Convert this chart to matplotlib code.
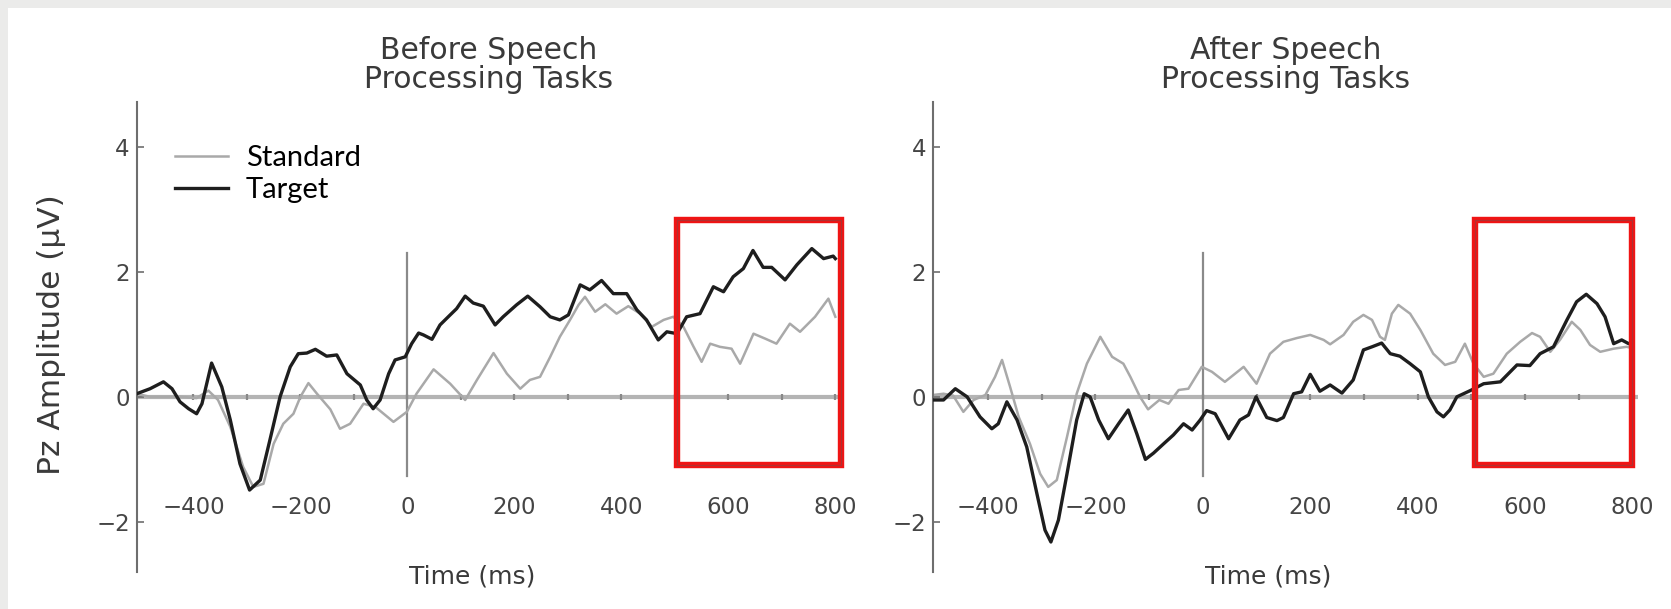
import numpy as np
import matplotlib
matplotlib.use('Agg')
import matplotlib.pyplot as plt
from matplotlib.patches import Rectangle

# --- data (ms, microvolt) ---
before_target_t = [-506, -481, -456, -440, -425, -409, -394, -384, -366, -347, -331, -313, -295, -275,
                   -257, -238, -219, -204, -188, -172, -151, -132, -113, -88, -76, -64, -51, -35, -23,
                   -4, 8, 21, 30, 46, 61, 80, 92, 108, 123, 142, 164, 179, 204, 225, 248, 267, 285,
                   301, 323, 341, 363, 385, 410, 429, 447, 469, 485, 504, 522, 547, 572, 591, 609,
                   628, 646, 665, 681, 706, 728, 756, 778, 796, 800]
before_target_v = [0.05, 0.13, 0.24, 0.13, -0.08, -0.19, -0.27, -0.11, 0.54, 0.16, -0.37, -1.07, -1.49,
                   -1.33, -0.69, 0.0, 0.48, 0.69, 0.70, 0.76, 0.65, 0.67, 0.37, 0.19, -0.05, -0.19,
                   -0.05, 0.37, 0.59, 0.64, 0.85, 1.02, 0.99, 0.92, 1.15, 1.31, 1.41, 1.61, 1.50, 1.45,
                   1.15, 1.28, 1.47, 1.61, 1.44, 1.28, 1.23, 1.31, 1.79, 1.71, 1.86, 1.65, 1.65, 1.39,
                   1.23, 0.91, 1.04, 1.01, 1.28, 1.33, 1.76, 1.68, 1.92, 2.05, 2.34, 2.07, 2.07, 1.87,
                   2.11, 2.37, 2.21, 2.25, 2.21]

before_std_t = [-506, -481, -456, -425, -394, -372, -354, -331, -307, -288, -269, -250, -232, -213,
                -200, -185, -169, -144, -126, -107, -82, -60, -26, -1, 17, 49, 80, 108, 130, 161,
                186, 211, 229, 248, 267, 285, 304, 320, 332, 351, 370, 391, 413, 435, 457, 479, 497,
                516, 535, 550, 566, 584, 606, 622, 647, 669, 690, 715, 734, 762, 787, 800]
before_std_v = [0.05, 0.0, 0.0, 0.0, -0.02, 0.10, -0.05, -0.48, -1.12, -1.44, -1.39, -0.75, -0.43,
                -0.27, 0.0, 0.22, 0.05, -0.20, -0.51, -0.43, -0.11, -0.16, -0.40, -0.24, 0.05, 0.44,
                0.21, -0.05, 0.27, 0.70, 0.37, 0.13, 0.27, 0.32, 0.64, 0.96, 1.23, 1.47, 1.60, 1.36,
                1.48, 1.33, 1.45, 1.33, 1.12, 1.23, 1.28, 1.12, 0.80, 0.56, 0.85, 0.80, 0.77, 0.53,
                1.01, 0.93, 0.85, 1.17, 1.04, 1.28, 1.57, 1.28]

after_target_t = [-502, -483, -461, -439, -415, -393, -381, -365, -346, -328, -309, -294, -283, -269,
                  -253, -235, -221, -210, -194, -176, -157, -139, -123, -107, -92, -73, -55, -36, -20,
                  -5, 7, 23, 48, 69, 85, 99, 119, 138, 150, 169, 184, 200, 218, 237, 259, 280, 299,
                  315, 333, 349, 367, 386, 405, 420, 436, 448, 460, 473, 498, 523, 554, 585, 609,
                  628, 653, 678, 696, 714, 734, 749, 765, 780, 793, 800]
after_target_v = [-0.05, -0.05, 0.13, 0.0, -0.32, -0.51, -0.43, -0.08, -0.37, -0.80, -1.55, -2.13,
                  -2.32, -1.97, -1.23, -0.37, 0.05, 0.0, -0.37, -0.67, -0.43, -0.21, -0.59, -1.0,
                  -0.90, -0.75, -0.61, -0.43, -0.53, -0.37, -0.22, -0.27, -0.67, -0.37, -0.29, 0.0,
                  -0.33, -0.38, -0.33, 0.05, 0.08, 0.36, 0.09, 0.19, 0.06, 0.27, 0.75, 0.80, 0.86,
                  0.69, 0.65, 0.53, 0.40, 0.0, -0.24, -0.32, -0.21, 0.0, 0.10, 0.21, 0.24, 0.51, 0.50,
                  0.69, 0.80, 1.23, 1.52, 1.64, 1.49, 1.28, 0.85, 0.91, 0.85, 0.85]

after_std_t = [-502, -483, -465, -446, -427, -405, -387, -374, -359, -343, -322, -303, -288, -272,
               -253, -235, -216, -191, -169, -148, -135, -117, -102, -81, -64, -45, -27, -2, 17, 41,
               76, 100, 125, 150, 175, 200, 225, 237, 262, 280, 299, 315, 330, 339, 352, 364, 386,
               405, 429, 451, 470, 488, 504, 523, 541, 566, 591, 613, 628, 647, 665, 687, 703, 721,
               740, 765, 789, 800]
after_std_v = [0.03, 0.05, 0.02, -0.24, -0.05, 0.03, 0.32, 0.59, 0.16, -0.32, -0.75, -1.23, -1.44,
               -1.33, -0.64, 0.05, 0.53, 0.96, 0.64, 0.53, 0.32, 0.0, -0.20, -0.05, -0.11, 0.11,
               0.13, 0.48, 0.40, 0.24, 0.48, 0.21, 0.69, 0.88, 0.94, 0.99, 0.91, 0.84, 0.99, 1.20,
               1.31, 1.23, 0.96, 0.91, 1.33, 1.47, 1.33, 1.07, 0.69, 0.51, 0.56, 0.85, 0.53, 0.32,
               0.37, 0.69, 0.88, 1.02, 0.96, 0.72, 0.91, 1.20, 1.07, 0.83, 0.72, 0.77, 0.80, 0.78]

titles = ['Before Speech\nProcessing Tasks', 'After Speech\nProcessing Tasks']
x_ticks = [-400, -200, 0, 200, 400, 600, 800]
y_ticks = [-2, 0, 2, 4]
zero_ticks = np.arange(-400, 801, 100)
box_before = (504, -1.09, 306, 3.91)   # highlighted window (x, y, w, h)
box_after = (507, -1.09, 293, 3.91)

W, H = 1671, 609
fig = plt.figure(figsize=(W / 100, H / 100), dpi=100)
fig.patch.set_facecolor('#ebebea')
fig.add_artist(Rectangle((8 / W, 0), 1, 1 - 8 / H, transform=fig.transFigure,
                         facecolor='white', edgecolor='none', zorder=-5))

ax1 = fig.add_axes([136.7 / W, 37 / H, 704 / W, 470.4 / H])
ax2 = fig.add_axes([933.3 / W, 37 / H, 704.5 / W, 470.4 / H])

panels = [
    (ax1, before_std_t, before_std_v, before_target_t, before_target_v, (-506, 810), box_before),
    (ax2, after_std_t, after_std_v, after_target_t, after_target_v, (-502, 810), box_after),
]

for i, (ax, st, sv, tt, tv, xl, box) in enumerate(panels):
    ax.set_facecolor('none')
    ax.axhline(0, color='#b4b4b4', lw=3, zorder=1)
    ax.plot(zero_ticks, np.zeros(len(zero_ticks)), ls='none', marker='|', ms=5, mew=1.6,
            color='#888888', zorder=1)
    ax.plot([0, 0], [-1.26, 2.3], color='#8a8a8a', lw=1.6, zorder=1)
    ax.plot(st, sv, color='#a9a9a9', lw=1.8, label='Standard', zorder=2)
    ax.plot(tt, tv, color='#1e1e1e', lw=2.4, label='Target', zorder=3)

    ax.set_xlim(*xl)
    ax.set_ylim(-2.8, 4.72)
    for s in ['top', 'right']:
        ax.spines[s].set_visible(False)
    ax.spines['bottom'].set_position(('data', -1.59))
    ax.spines['bottom'].set_visible(False)
    ax.spines['left'].set_color('#6e6e6e')
    ax.spines['left'].set_linewidth(1.5)

    ax.set_xticks(x_ticks)
    ax.set_yticks(y_ticks)
    ax.tick_params(axis='x', length=0, pad=0, labelsize=16.5, labelcolor='#454545')
    ax.tick_params(axis='y', direction='in', length=5, width=1.2, color='#6e6e6e', pad=5,
                   labelsize=16.5, labelcolor='#454545')

    ax.set_title(titles[i], fontsize=21.5, color='#3a3a3a', pad=10, linespacing=1.0)
    ax.text(122, -2.87, 'Time (ms)', ha='center', va='center', fontsize=18, color='#3a3a3a')

    x0, y0, w, h = box
    ax.add_patch(Rectangle((x0, y0), w, h, fill=False, edgecolor='#f01414', lw=4.6,
                           clip_on=False, zorder=6))
    ax.add_patch(Rectangle((x0, y0), w, h, fill=False, edgecolor='#b03030', lw=0.9,
                           clip_on=False, zorder=7))

ax1.set_ylabel('Pz Amplitude (\u00b5V)', fontsize=22.5, color='#3a3a3a')
ax1.yaxis.set_label_coords(-0.1, 0.504)

leg = ax1.legend(handles=[ax1.lines[3], ax1.lines[4]], loc='upper left',
                 bbox_to_anchor=(0.055, 0.908), frameon=False, borderpad=0, borderaxespad=0,
                 handlelength=1.8, handletextpad=0.62, labelspacing=0.22,
                 prop={'family': 'Lato', 'size': 21})
for t in leg.get_texts():
    t.set_color('black')

fig.savefig('out.png', dpi=100, facecolor=fig.get_facecolor())
